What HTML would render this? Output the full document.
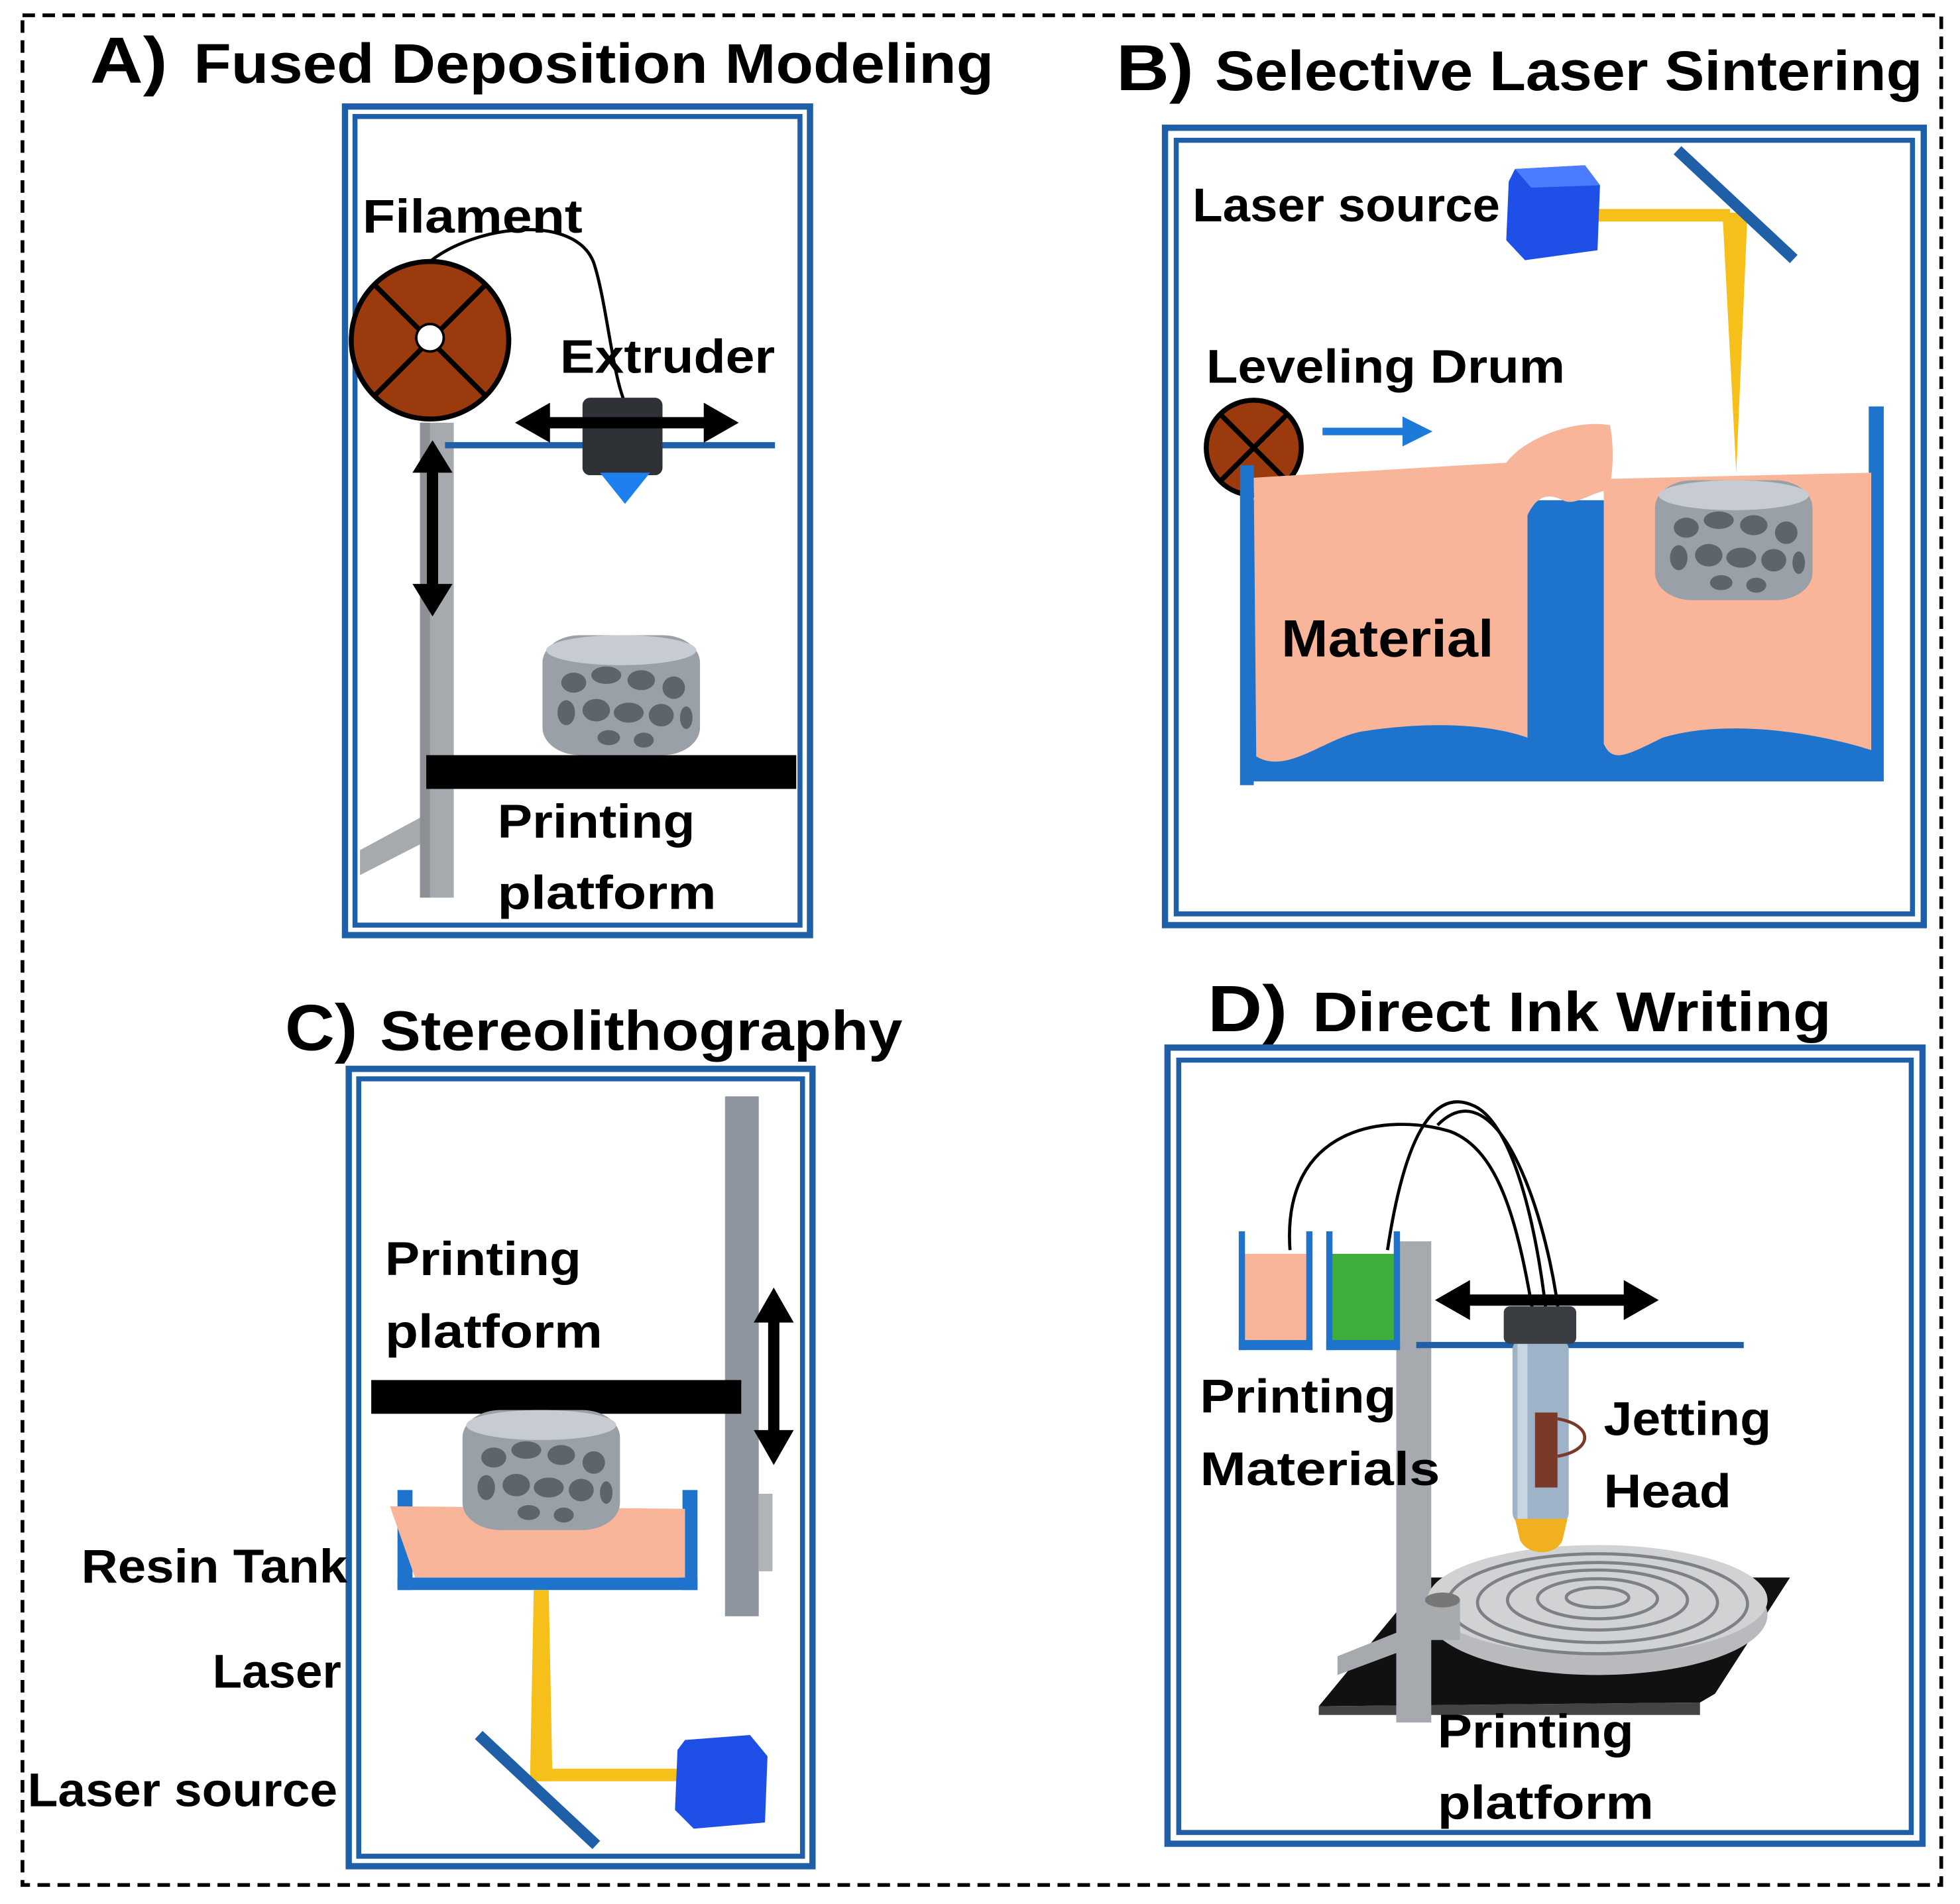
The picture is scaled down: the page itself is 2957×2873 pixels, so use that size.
<!DOCTYPE html>
<html><head><meta charset="utf-8"><style>
html,body{margin:0;padding:0;background:#fff;}
svg{display:block;}
text{font-family:"Liberation Sans",sans-serif;font-weight:bold;fill:#000;}
</style></head><body>
<svg width="2957" height="2873" viewBox="0 0 1568 1523" xmlns="http://www.w3.org/2000/svg">
<defs>
<g id="obj">
<rect x="-63" y="-48" width="126" height="96" rx="30" ry="22" fill="#9aa0a8"/>
<ellipse cx="0" cy="-36" rx="60" ry="12" fill="#c7ccd2"/>
<g fill="#5e646c">
<ellipse cx="-38" cy="-10" rx="10" ry="8"/><ellipse cx="-12" cy="-16" rx="12" ry="7"/><ellipse cx="16" cy="-12" rx="11" ry="8"/><ellipse cx="42" cy="-6" rx="9" ry="9"/>
<ellipse cx="-44" cy="14" rx="7" ry="10"/><ellipse cx="-20" cy="12" rx="11" ry="9"/><ellipse cx="6" cy="14" rx="12" ry="8"/><ellipse cx="32" cy="16" rx="10" ry="9"/><ellipse cx="52" cy="18" rx="5" ry="9"/>
<ellipse cx="-10" cy="34" rx="9" ry="6"/><ellipse cx="18" cy="36" rx="8" ry="6"/>
</g>
</g>
</defs>
<rect x="18" y="12" width="1535" height="1496" fill="none" stroke="#000" stroke-width="3" stroke-dasharray="10,6"/>

<!-- A -->
<text x="72" y="66" font-size="52" textLength="62" lengthAdjust="spacingAndGlyphs">A)</text>
<text x="155" y="66" font-size="45" textLength="640" lengthAdjust="spacingAndGlyphs">Fused Deposition Modeling</text>
<rect x="276" y="85" width="372" height="663" fill="none" stroke="#1f5fa8" stroke-width="5"/>
<rect x="284" y="93" width="356" height="647" fill="none" stroke="#1f5fa8" stroke-width="4"/>
<path d="M288 700 L288 680 L362 640 L362 662 Z" fill="#a6a9ae"/>
<rect x="336" y="338" width="27" height="380" fill="#a6a9ae"/>
<rect x="336" y="338" width="8" height="380" fill="#8c8f94"/>
<circle cx="344" cy="272" r="63" fill="#9b3a0d" stroke="#000" stroke-width="4"/>
<line x1="300" y1="228" x2="388" y2="316" stroke="#000" stroke-width="4"/>
<line x1="388" y1="228" x2="300" y2="316" stroke="#000" stroke-width="4"/>
<circle cx="344" cy="270" r="11" fill="#fff" stroke="#000" stroke-width="2"/>
<path d="M344 209 C380 180 460 170 475 210 C485 240 490 300 500 322" fill="none" stroke="#000" stroke-width="2.5"/>
<text x="290" y="186" font-size="38" textLength="176" lengthAdjust="spacingAndGlyphs">Filament</text>
<text x="448" y="298" font-size="38" textLength="172" lengthAdjust="spacingAndGlyphs">Extruder</text>
<line x1="356" y1="356" x2="620" y2="356" stroke="#1f5fa8" stroke-width="5"/>
<rect x="466" y="318" width="64" height="62" rx="6" fill="#2e3136"/>
<path d="M480 378 L520 378 L500 403 Z" fill="#1e7ff0"/>
<line x1="430" y1="338" x2="573" y2="338" stroke="#000" stroke-width="9"/>
<path d="M412 338 L440 322 L440 354 Z M591 338 L563 322 L563 354 Z" fill="#000"/>
<line x1="346" y1="372" x2="346" y2="473" stroke="#000" stroke-width="9"/>
<path d="M346 352 L330 378 L362 378 Z M346 493 L330 467 L362 467 Z" fill="#000"/>
<use href="#obj" x="497" y="556"/>
<rect x="341" y="604" width="296" height="27" fill="#000"/>
<text x="398" y="670" font-size="38" textLength="158" lengthAdjust="spacingAndGlyphs">Printing</text>
<text x="398" y="727" font-size="38" textLength="175" lengthAdjust="spacingAndGlyphs">platform</text>

<!-- B -->
<text x="893" y="72" font-size="52" textLength="62" lengthAdjust="spacingAndGlyphs">B)</text>
<text x="972" y="72" font-size="45" textLength="566" lengthAdjust="spacingAndGlyphs">Selective Laser Sintering</text>
<rect x="932" y="102" width="607" height="638" fill="none" stroke="#1f5fa8" stroke-width="5"/>
<rect x="941" y="112" width="589" height="619" fill="none" stroke="#1f5fa8" stroke-width="4"/>
<text x="954" y="177" font-size="38" textLength="246" lengthAdjust="spacingAndGlyphs">Laser source</text>
<line x1="1275" y1="172" x2="1384" y2="172" stroke="#f7bf1a" stroke-width="10"/>
<path d="M1378 170 L1398 170 L1389 378 Z" fill="#f7bf1a"/>
<line x1="1342" y1="120" x2="1435" y2="207" stroke="#1f5fa8" stroke-width="9"/>
<path d="M1212 135 L1268 132 L1280 148 L1278 200 L1220 208 L1205 192 L1207 145 Z" fill="#1e4fe6"/>
<path d="M1212 135 L1268 132 L1280 148 L1225 150 Z" fill="#4a7cff"/>
<text x="965" y="306" font-size="38" textLength="287" lengthAdjust="spacingAndGlyphs">Leveling Drum</text>
<circle cx="1003" cy="358" r="38" fill="#9b3a0d" stroke="#000" stroke-width="4"/>
<line x1="976" y1="331" x2="1030" y2="385" stroke="#000" stroke-width="4"/>
<line x1="1030" y1="331" x2="976" y2="385" stroke="#000" stroke-width="4"/>
<line x1="1058" y1="345" x2="1125" y2="345" stroke="#1e7ad8" stroke-width="6"/>
<path d="M1146 345 L1122 333 L1122 357 Z" fill="#1e7ad8"/>
<rect x="1003" y="400" width="500" height="225" fill="#1e73cc"/>
<rect x="992" y="372" width="11" height="256" fill="#1e73cc"/>
<rect x="1495" y="325" width="12" height="300" fill="#1e73cc"/>
<path d="M1003 382 L1205 370 C1220 350 1260 335 1288 340 C1292 360 1290 385 1286 392 C1270 395 1260 405 1250 400 C1240 395 1230 395 1222 412 L1222 590 C1180 575 1120 580 1090 585 C1060 590 1030 620 1005 605 Z" fill="#f9b59a"/>
<path d="M1283 383 L1497 378 L1497 600 C1450 585 1380 575 1330 590 C1300 605 1290 610 1283 595 Z" fill="#f9b59a"/>
<text x="1025" y="525" font-size="42" textLength="170" lengthAdjust="spacingAndGlyphs">Material</text>
<use href="#obj" x="1387" y="432"/>

<!-- C -->
<text x="228" y="840" font-size="52" textLength="58" lengthAdjust="spacingAndGlyphs">C)</text>
<text x="304" y="840" font-size="45" textLength="418" lengthAdjust="spacingAndGlyphs">Stereolithography</text>
<rect x="279" y="855" width="371" height="638" fill="none" stroke="#1f5fa8" stroke-width="5"/>
<rect x="287" y="863" width="355" height="622" fill="none" stroke="#1f5fa8" stroke-width="4"/>
<rect x="580" y="877" width="27" height="416" fill="#8e959e"/>
<rect x="607" y="1195" width="11" height="62" fill="#b0b4b8"/>
<line x1="619" y1="1050" x2="619" y2="1150" stroke="#000" stroke-width="9"/>
<path d="M619 1030 L603 1058 L635 1058 Z M619 1172 L603 1144 L635 1144 Z" fill="#000"/>
<text x="308" y="1020" font-size="38" textLength="157" lengthAdjust="spacingAndGlyphs">Printing</text>
<text x="308" y="1078" font-size="38" textLength="174" lengthAdjust="spacingAndGlyphs">platform</text>
<rect x="297" y="1104" width="296" height="27" fill="#000"/>
<rect x="318" y="1192" width="12" height="80" fill="#1e73cc"/>
<rect x="546" y="1192" width="12" height="80" fill="#1e73cc"/>
<rect x="318" y="1262" width="240" height="10" fill="#1e73cc"/>
<path d="M312 1205 L548 1207 L548 1262 L332 1262 Z" fill="#f9b59a"/>
<use href="#obj" x="433" y="1176"/>
<path d="M427 1272 L439 1272 L442 1425 L424 1425 Z" fill="#f7bf1a"/>
<line x1="430" y1="1420" x2="545" y2="1420" stroke="#f7bf1a" stroke-width="10"/>
<line x1="383" y1="1388" x2="477" y2="1476" stroke="#1f5fa8" stroke-width="9"/>
<path d="M548 1392 L600 1388 L614 1405 L612 1458 L555 1463 L540 1448 L542 1400 Z" fill="#1e4fe6"/>
<text x="65" y="1266" font-size="38" textLength="213" lengthAdjust="spacingAndGlyphs">Resin Tank</text>
<text x="170" y="1350" font-size="38" textLength="103" lengthAdjust="spacingAndGlyphs">Laser</text>
<text x="22" y="1445" font-size="38" textLength="248" lengthAdjust="spacingAndGlyphs">Laser source</text>

<!-- D -->
<text x="966" y="825" font-size="52" textLength="64" lengthAdjust="spacingAndGlyphs">D)</text>
<text x="1050" y="825" font-size="45" textLength="415" lengthAdjust="spacingAndGlyphs">Direct Ink Writing</text>
<rect x="934" y="838" width="604" height="637" fill="none" stroke="#1f5fa8" stroke-width="5"/>
<rect x="943" y="848" width="586" height="618" fill="none" stroke="#1f5fa8" stroke-width="4"/>
<path d="M1055 1365 L1140 1262 L1432 1262 L1372 1355 L1360 1362 Z" fill="#111"/>
<path d="M1055 1365 L1360 1362 L1360 1372 L1055 1372 Z" fill="#444"/>
<path d="M1070 1340 L1070 1325 L1145 1295 L1145 1312 Z" fill="#a6a9ae"/>
<rect x="1117" y="993" width="28" height="385" fill="#a6a9ae"/>
<ellipse cx="1278" cy="1292" rx="136" ry="48" fill="#b8babd"/>
<ellipse cx="1278" cy="1280" rx="136" ry="44" fill="#d0d2d4"/>
<g fill="none" stroke="#7d8084" stroke-width="2.5">
<ellipse cx="1278" cy="1283" rx="120" ry="40"/>
<ellipse cx="1278" cy="1282" rx="96" ry="32"/>
<ellipse cx="1278" cy="1280" rx="72" ry="24"/>
<ellipse cx="1278" cy="1279" rx="48" ry="16"/>
<ellipse cx="1278" cy="1278" rx="25" ry="8"/>
</g>
<rect x="1140" y="1280" width="28" height="32" fill="#a8abae"/>
<ellipse cx="1154" cy="1280" rx="14" ry="6" fill="#777"/>
<rect x="992" y="1003" width="56" height="77" fill="#f9b59a"/>
<rect x="1062" y="1003" width="56" height="77" fill="#3fae3a"/>
<g fill="#1e73cc">
<rect x="991" y="985" width="5" height="95"/><rect x="1045" y="985" width="5" height="95"/><rect x="991" y="1072" width="59" height="8"/>
<rect x="1061" y="985" width="5" height="95"/><rect x="1115" y="985" width="5" height="95"/><rect x="1061" y="1072" width="59" height="8"/>
</g>
<g fill="none" stroke="#000" stroke-width="2.5">
<path d="M1032 1000 C1025 900 1110 890 1160 905 C1200 920 1215 980 1228 1060"/>
<path d="M1110 1000 C1125 900 1150 870 1180 885 C1210 900 1230 980 1238 1060"/>
<path d="M1150 900 C1200 850 1240 980 1248 1060"/>
</g>
<line x1="1133" y1="1076" x2="1395" y2="1076" stroke="#1f5fa8" stroke-width="5"/>
<rect x="1210" y="1070" width="45" height="150" rx="10" fill="#9fb3c8"/>
<rect x="1214" y="1070" width="8" height="150" fill="#c8d6e4"/>
<rect x="1203" y="1045" width="58" height="30" rx="5" fill="#3a3d42"/>
<rect x="1228" y="1130" width="18" height="60" fill="#7a3a2a"/>
<path d="M1246 1135 C1275 1140 1275 1160 1246 1165" fill="none" stroke="#7a3a2a" stroke-width="2.5"/>
<path d="M1212 1215 L1254 1215 L1250 1232 C1245 1245 1222 1245 1216 1232 Z" fill="#f0b020"/>
<line x1="1170" y1="1040" x2="1305" y2="1040" stroke="#000" stroke-width="9"/>
<path d="M1148 1040 L1176 1024 L1176 1056 Z M1327 1040 L1299 1024 L1299 1056 Z" fill="#000"/>
<text x="960" y="1130" font-size="38" textLength="157" lengthAdjust="spacingAndGlyphs">Printing</text>
<text x="960" y="1188" font-size="38" textLength="192" lengthAdjust="spacingAndGlyphs">Materials</text>
<text x="1283" y="1148" font-size="38" textLength="134" lengthAdjust="spacingAndGlyphs">Jetting</text>
<text x="1283" y="1206" font-size="38" textLength="102" lengthAdjust="spacingAndGlyphs">Head</text>
<text x="1150" y="1398" font-size="38" textLength="157" lengthAdjust="spacingAndGlyphs">Printing</text>
<text x="1150" y="1455" font-size="38" textLength="173" lengthAdjust="spacingAndGlyphs">platform</text>
</svg>
</body></html>
